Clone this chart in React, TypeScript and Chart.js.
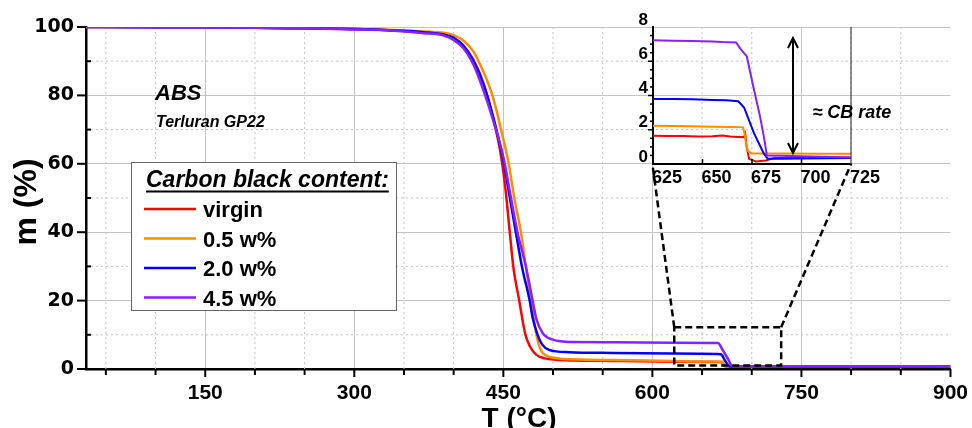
import { useEffect, useRef } from "react"
import { Chart, registerables } from "chart.js"

Chart.register(...registerables)

const FONT = "'Liberation Sans', Arial, sans-serif"
const TICK_FONT = "'DejaVu Sans', Verdana, sans-serif"

// main TGA curves: temperature (°C) and remaining mass (%)
const virginT = [30, 100, 150, 200, 250, 300, 340, 370, 390, 400, 410, 420, 430, 440, 447, 452, 456.5, 460, 466, 472, 477, 483, 492, 503, 520, 560, 620, 665, 670, 672, 674, 690, 800, 900]
const virginM = [100, 99.95, 99.9, 99.8, 99.6, 99.4, 99.0, 98.5, 97.8, 96.8, 94.5, 90.3, 83.5, 73, 63.5, 53, 40, 30, 20, 10.3, 6.5, 4.2, 3.1, 2.7, 2.5, 2.35, 2.15, 2.05, 2.0, 1.2, 0.7, 0.7, 0.7, 0.7]

const half1T = [30, 100, 150, 200, 250, 300, 340, 370, 390, 400, 410, 420, 427.5, 439, 447.7, 455.4, 461, 467.7, 472.6, 478, 481, 484, 487, 490, 495, 503, 510, 560, 620, 660, 670.5, 671.5, 673, 675, 700, 800, 900]
const half1M = [100, 99.95, 99.9, 99.8, 99.6, 99.4, 99.1, 98.7, 98.3, 97.6, 96.0, 92.8, 88.5, 80, 70, 60, 50, 40, 30, 20, 14, 9, 6, 4.6, 3.7, 3.2, 2.9, 2.6, 2.35, 2.2, 2.15, 1.4, 0.8, 0.7, 0.7, 0.7, 0.7]

const two0T = [30, 100, 150, 200, 250, 300, 340, 370, 390, 400, 410, 420, 430, 440, 447, 451, 456, 462.6, 468.7, 476.5, 479.5, 484.5, 489, 496, 516, 560, 620, 665, 669, 673, 676, 678, 700, 800, 900]
const two0M = [100, 99.95, 99.9, 99.8, 99.6, 99.4, 99.0, 98.5, 97.8, 96.8, 94.4, 90, 83.3, 73.5, 65, 59.5, 51, 40, 30, 20, 15, 10, 7.2, 5.6, 4.9, 4.7, 4.55, 4.4, 4.3, 2.5, 1.2, 0.75, 0.7, 0.7, 0.7]

const four5T = [30, 100, 150, 200, 250, 300, 340, 370, 390, 400, 410, 420, 430, 440, 450, 457.7, 464.2, 472.7, 479.5, 483.5, 489.6, 494, 499.7, 508, 516.5, 560, 620, 666, 671, 676, 680.5, 700, 800, 900]
const four5M = [100, 99.95, 99.9, 99.8, 99.6, 99.3, 98.9, 98.2, 97.5, 96.2, 93.8, 89.0, 81.5, 72.5, 62, 50, 40, 30, 20, 14.4, 10.5, 9.3, 8.6, 8.1, 7.9, 7.85, 7.7, 7.6, 5.4, 3.0, 0.8, 0.75, 0.8, 0.75]

// inset: zoom on the final combustion step
const insetVirginT = [625, 632, 640, 648, 655, 660, 664, 668, 671, 671.6, 672.3, 673.5, 677, 682, 686, 700, 712, 725]
const insetVirginM = [1.65, 1.63, 1.64, 1.6, 1.62, 1.66, 1.6, 1.58, 1.57, 1.75, 1.0, 0.3, 0.15, 0.2, 0.35, 0.38, 0.36, 0.38]
const insetHalf1T = [625, 635, 645, 655, 665, 670.5, 671.2, 672, 673, 675, 690, 710, 725]
const insetHalf1M = [2.24, 2.22, 2.2, 2.18, 2.16, 2.14, 1.8, 1.2, 0.75, 0.62, 0.62, 0.6, 0.6]
const insetTwo0T = [625, 635, 645, 655, 662, 668, 669, 671, 676, 681, 683, 690, 700, 712, 725]
const insetTwo0M = [3.8, 3.79, 3.78, 3.74, 3.72, 3.66, 3.55, 3.3, 1.8, 0.6, 0.3, 0.3, 0.32, 0.33, 0.35]
const insetFour5T = [625, 635, 645, 655, 660, 667, 669, 672.4, 675.7, 679, 681, 682.5, 690, 700, 710, 725]
const insetFour5M = [7.22, 7.2, 7.18, 7.15, 7.12, 7.1, 6.75, 6.28, 4.5, 2.8, 1.6, 0.5, 0.48, 0.45, 0.42, 0.38]

const seriesNames = ["virgin", "0.5 w%", "2.0 w%", "4.5 w%"]
const seriesColors = ["rgb(255, 0, 0)", "rgb(255, 140, 0)", "rgb(0, 0, 255)", "rgb(136, 32, 255)"]

const xTickLabels = [150, 300, 450, 600, 750, 900]
const yTickLabels = [0, 20, 40, 60, 80, 100]

const toPoints = (t: number[], m: number[]) => t.map((x, i) => ({ x, y: m[i] }))

const mainSeries = [
  toPoints(virginT, virginM),
  toPoints(half1T, half1M),
  toPoints(two0T, two0M),
  toPoints(four5T, four5M),
]
const insetSeries = [
  toPoints(insetVirginT, insetVirginM),
  toPoints(insetHalf1T, insetHalf1M),
  toPoints(insetTwo0T, insetTwo0M),
  toPoints(insetFour5T, insetFour5M),
]

function line(ctx: CanvasRenderingContext2D, x1: number, y1: number, x2: number, y2: number) {
  ctx.beginPath()
  ctx.moveTo(x1, y1)
  ctx.lineTo(x2, y2)
  ctx.stroke()
}

const mainDecor = {
  id: "mainDecor",
  beforeDatasetsDraw(chart: any) {
    const { ctx, chartArea: a } = chart
    const x = chart.scales.x
    const y = chart.scales.y
    ctx.save()
    ctx.strokeStyle = "#c4c4c4"
    ctx.lineWidth = 1
    ctx.setLineDash([2, 3])
    for (let t = 50; t < 900; t += 50) {
      if (t % 150 === 0) continue
      const px = x.getPixelForValue(t)
      line(ctx, px, a.top, px, a.bottom)
    }
    for (let m = 10; m < 100; m += 20) {
      const py = y.getPixelForValue(m)
      line(ctx, a.left, py, a.right, py)
    }
    ctx.restore()
  },
  afterDraw(chart: any) {
    const { ctx, chartArea: a } = chart
    const x = chart.scales.x
    const y = chart.scales.y
    ctx.save()

    // tick marks
    ctx.strokeStyle = "#000"
    ctx.lineWidth = 2
    for (let t = 50; t <= 900; t += 50) {
      const px = x.getPixelForValue(t)
      line(ctx, px, a.bottom, px, a.bottom + (t % 150 === 0 ? 8 : 6))
    }
    for (let m = 0; m <= 100; m += 10) {
      const py = y.getPixelForValue(m)
      if (m % 20 === 0) line(ctx, a.left - 9, py, a.left, py)
      else line(ctx, a.left, py, a.left + 5, py)
    }

    // zoom window and connectors to the inset
    const rl = x.getPixelForValue(622)
    const rr = x.getPixelForValue(729.6)
    const rt = y.getPixelForValue(12.2)
    const rb = y.getPixelForValue(1.05)
    ctx.setLineDash([7, 4])
    ctx.lineWidth = 2.5
    ctx.strokeRect(rl, rt, rr - rl, rb - rt)
    line(ctx, rl, rt, x.getPixelForValue(600), y.getPixelForValue(60))
    line(ctx, rr, rt, x.getPixelForValue(800), y.getPixelForValue(60))
    ctx.setLineDash([])

    // material label
    ctx.fillStyle = "#000"
    ctx.textAlign = "left"
    ctx.textBaseline = "alphabetic"
    ctx.font = `italic bold 22px ${FONT}`
    ctx.fillText("ABS", 155, 100)
    ctx.font = `italic bold 16px ${FONT}`
    ctx.fillText("Terluran GP22", 156, 127)

    // legend box
    ctx.fillStyle = "#fff"
    ctx.fillRect(131, 162, 266, 149)
    ctx.strokeStyle = "#666"
    ctx.lineWidth = 1
    ctx.strokeRect(131.5, 162.5, 265, 148)
    ctx.fillStyle = "#000"
    ctx.font = `italic bold 23px ${FONT}`
    ctx.fillText("Carbon black content:", 146, 187)
    const tw = ctx.measureText("Carbon black content:").width
    ctx.strokeStyle = "#000"
    ctx.lineWidth = 2
    line(ctx, 146, 191.5, 146 + tw, 191.5)
    ctx.font = `bold 22px ${FONT}`
    seriesNames.forEach((name, i) => {
      const ly = 209 + i * 29.5
      ctx.strokeStyle = seriesColors[i]
      ctx.lineWidth = 2.5
      line(ctx, 144, ly, 196, ly)
      ctx.fillText(name, 203, ly + 8)
    })

    // axis titles
    ctx.font = `bold 28px ${FONT}`
    ctx.textAlign = "center"
    ctx.fillText("T (°C)", 519, 427)
    ctx.translate(27, 202)
    ctx.rotate(-Math.PI / 2)
    ctx.font = `bold 32px ${FONT}`
    ctx.textBaseline = "middle"
    ctx.fillText("m (%)", 0, 0)
    ctx.restore()
  },
}

const insetDecor = {
  id: "insetDecor",
  afterDraw(chart: any) {
    const { ctx, chartArea: a } = chart
    const x = chart.scales.x
    const y = chart.scales.y
    ctx.save()
    ctx.strokeStyle = "#444"
    ctx.lineWidth = 1.2
    line(ctx, a.right, a.top, a.right, a.bottom)

    ctx.strokeStyle = "#000"
    ctx.lineWidth = 1.5
    for (let t = 650; t < 725; t += 25) {
      const px = x.getPixelForValue(t)
      line(ctx, px, a.bottom, px, a.bottom - 5)
    }
    for (let v = 0.5; v < 8; v += 0.5) {
      const py = y.getPixelForValue(v)
      line(ctx, a.left, py, a.left - (v % 2 === 0 ? 5 : 3), py)
    }

    // double arrow marking the carbon black residue
    const ax = x.getPixelForValue(695.7)
    const top = y.getPixelForValue(7.36)
    const bot = y.getPixelForValue(0.64)
    ctx.lineWidth = 2
    line(ctx, ax, top, ax, bot)
    ctx.beginPath()
    ctx.moveTo(ax - 5, top + 10)
    ctx.lineTo(ax, top)
    ctx.lineTo(ax + 5, top + 10)
    ctx.moveTo(ax - 5, bot - 10)
    ctx.lineTo(ax, bot)
    ctx.lineTo(ax + 5, bot - 10)
    ctx.stroke()

    ctx.fillStyle = "#000"
    ctx.font = `italic bold 18px ${FONT}`
    ctx.textAlign = "left"
    ctx.textBaseline = "middle"
    ctx.fillText("≈ CB rate", x.getPixelForValue(705.5), y.getPixelForValue(3.0))
    ctx.restore()
  },
}

export default function App() {
  const mainRef = useRef<HTMLCanvasElement>(null)
  const insetRef = useRef<HTMLCanvasElement>(null)

  useEffect(() => {
    if (!mainRef.current || !insetRef.current) return

    const main = new Chart(mainRef.current, {
      type: "line",
      data: {
        datasets: mainSeries.map((pts, i) => ({
          label: seriesNames[i],
          data: pts,
          borderColor: seriesColors[i],
          borderWidth: 2.5,
          pointRadius: 0,
          cubicInterpolationMode: "monotone",
          order: 3 - i,
        })),
      },
      options: {
        animation: false,
        responsive: true,
        maintainAspectRatio: false,
        layout: { padding: { left: 0, top: 27, right: 21, bottom: 0 } },
        plugins: { legend: { display: false }, tooltip: { enabled: false } },
        scales: {
          x: {
            type: "linear",
            min: 30,
            max: 900,
            afterFit: (s: any) => {
              s.height = 59
            },
            ticks: {
              stepSize: 50,
              includeBounds: false,
              autoSkip: false,
              maxRotation: 0,
              padding: 4,
              color: "#000",
              font: { family: FONT, size: 21, weight: "bold" },
              callback: (v: any) => (xTickLabels.includes(v) ? String(v) : ""),
            },
            grid: {
              color: (c: any) =>
                c.tick && c.tick.value % 150 === 0 && c.tick.value < 900 ? "#c4c4c4" : "rgba(0,0,0,0)",
              tickColor: "rgba(0,0,0,0)",
              tickLength: 8,
            },
            border: { color: "#000", width: 2.5 },
          },
          y: {
            min: 0,
            max: 100,
            afterFit: (s: any) => {
              s.width = 86
            },
            ticks: {
              stepSize: 10,
              autoSkip: false,
              padding: 4,
              color: "#000",
              font: { family: TICK_FONT, size: 19, weight: "bold" },
              callback: (v: any) => (yTickLabels.includes(v) ? String(v) : ""),
            },
            grid: {
              color: (c: any) =>
                c.tick && c.tick.value % 20 === 0 && c.tick.value > 0 ? "#c4c4c4" : "rgba(0,0,0,0)",
              tickColor: "rgba(0,0,0,0)",
              tickLength: 8,
            },
            border: { color: "#000", width: 2.5 },
          },
        },
      },
      plugins: [mainDecor],
    } as any)

    const inset = new Chart(insetRef.current, {
      type: "line",
      data: {
        datasets: insetSeries.map((pts, i) => ({
          label: seriesNames[i],
          data: pts,
          borderColor: seriesColors[i],
          borderWidth: 2,
          pointRadius: 0,
          tension: 0,
          order: 3 - i,
        })),
      },
      options: {
        animation: false,
        responsive: true,
        maintainAspectRatio: false,
        layout: { padding: { left: 0, top: 27, right: 59, bottom: 0 } },
        plugins: { legend: { display: false }, tooltip: { enabled: false } },
        scales: {
          x: {
            type: "linear",
            min: 625,
            max: 725,
            afterFit: (s: any) => {
              s.height = 36
            },
            ticks: {
              stepSize: 25,
              labelOffset: 14,
              padding: 3,
              maxRotation: 0,
              color: "#000",
              font: { family: FONT, size: 18, weight: "bold" },
            },
            grid: { display: false, drawTicks: false },
            border: { color: "#000", width: 2 },
          },
          y: {
            min: 0,
            max: 8,
            afterFit: (s: any) => {
              s.width = 53
            },
            ticks: {
              stepSize: 2,
              labelOffset: -7,
              padding: 5,
              color: "#000",
              font: { family: FONT, size: 17, weight: "bold" },
            },
            grid: { display: false, drawTicks: false },
            border: { color: "#000", width: 2 },
          },
        },
      },
      plugins: [insetDecor],
    } as any)

    return () => {
      main.destroy()
      inset.destroy()
    }
  }, [])

  return (
    <div style={{ position: "fixed", left: 0, top: 0, width: 972, height: 428, background: "#fff" }}>
      <div style={{ position: "absolute", left: 0, top: 0, width: 972, height: 428 }}>
        <canvas ref={mainRef}></canvas>
      </div>
      <div style={{ position: "absolute", left: 600, top: 0, width: 310, height: 200 }}>
        <canvas ref={insetRef}></canvas>
      </div>
    </div>
  )
}
